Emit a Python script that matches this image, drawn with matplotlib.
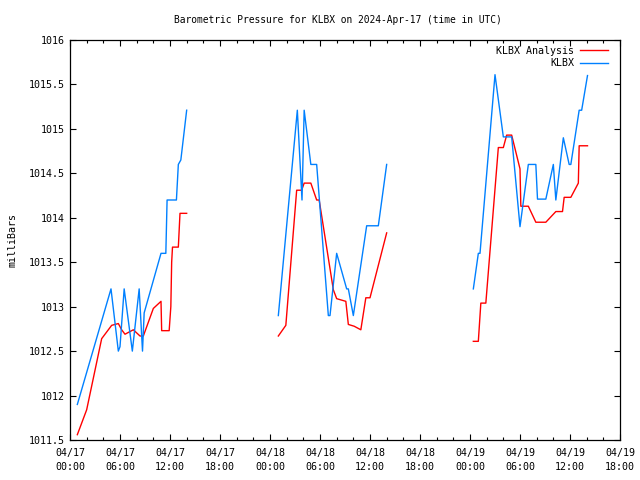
import numpy as np
import matplotlib
matplotlib.use("Agg")
import matplotlib.pyplot as plt
from matplotlib.ticker import MultipleLocator

# hours since 2024-04-17 00:00 UTC
obs_hours = [0.88, 4.92, 5.8, 6.0, 6.5, 7.48, 8.3, 8.7, 8.9, 10.92, 11.5, 11.65, 12.77, 13.0, 13.3, 14.0, np.nan,
             25.0, 27.28, 27.84, 28.1, 28.9, 29.6, 31.0, 31.2, 32.0, 33.2, 33.4, 34.0, 35.6, 37.0, 38.0, np.nan,
             48.4, 49.0, 49.2, 51.0, 52.0, 53.0, 54.0, 55.0, 55.9, 56.1, 57.1, 58.0, 58.3, 59.2, 59.9, 60.1, 61.1, 61.4, 62.1]
obs_mb = [1011.90, 1013.20, 1012.50, 1012.55, 1013.20, 1012.50, 1013.20, 1012.50, 1012.93, 1013.60, 1013.60, 1014.20, 1014.20, 1014.60, 1014.65, 1015.21, np.nan,
          1012.90, 1015.21, 1014.20, 1015.21, 1014.60, 1014.60, 1012.90, 1012.90, 1013.60, 1013.20, 1013.20, 1012.90, 1013.91, 1013.91, 1014.60, np.nan,
          1013.20, 1013.60, 1013.60, 1015.61, 1014.91, 1014.91, 1013.90, 1014.60, 1014.60, 1014.21, 1014.21, 1014.60, 1014.20, 1014.90, 1014.60, 1014.60, 1015.21, 1015.21, 1015.60]

ana_hours = [0.88, 2.0, 3.8, 5.0, 5.8, 6.2, 6.6, 7.6, 8.4, 8.8, 10.0, 10.92, 11.0, 11.9, 12.1, 12.2, 12.3, 13.0, 13.2, 14.0, np.nan,
             25.0, 25.9, 27.2, 27.8, 28.1, 28.9, 29.6, 29.9, 31.6, 32.0, 33.1, 33.4, 34.1, 34.9, 35.5, 36.0, 38.0, np.nan,
             48.4, 49.0, 49.3, 49.9, 51.4, 52.0, 52.4, 53.0, 54.0, 54.1, 55.0, 55.9, 57.1, 58.3, 59.1, 59.3, 60.1, 61.0, 61.1, 62.1]
ana_mb = [1011.56, 1011.84, 1012.64, 1012.79, 1012.81, 1012.74, 1012.69, 1012.74, 1012.67, 1012.67, 1012.98, 1013.06, 1012.73, 1012.73, 1013.0, 1013.5, 1013.67, 1013.67, 1014.05, 1014.05, np.nan,
          1012.67, 1012.79, 1014.31, 1014.31, 1014.39, 1014.39, 1014.20, 1014.20, 1013.19, 1013.09, 1013.06, 1012.80, 1012.78, 1012.74, 1013.10, 1013.10, 1013.83, np.nan,
          1012.61, 1012.61, 1013.04, 1013.04, 1014.79, 1014.79, 1014.93, 1014.93, 1014.55, 1014.13, 1014.13, 1013.95, 1013.95, 1014.07, 1014.07, 1014.23, 1014.23, 1014.39, 1014.81, 1014.81]

xtick_hours = [0, 6, 12, 18, 24, 30, 36, 42, 48, 54, 60, 66]
xtick_labels = ["04/17\n00:00", "04/17\n06:00", "04/17\n12:00", "04/17\n18:00",
                "04/18\n00:00", "04/18\n06:00", "04/18\n12:00", "04/18\n18:00",
                "04/19\n00:00", "04/19\n06:00", "04/19\n12:00", "04/19\n18:00"]
ytick_vals = [1011.5, 1012, 1012.5, 1013, 1013.5, 1014, 1014.5, 1015, 1015.5, 1016]
ytick_labels = ["1011.5", "1012", "1012.5", "1013", "1013.5", "1014", "1014.5", "1015", "1015.5", "1016"]

plt.rcParams['font.family'] = ['DejaVu Sans Mono']
FS = 7.2

fig = plt.figure(figsize=(6.4, 4.8), dpi=100)
ax = fig.add_axes([70/640, 40/480, 550/640, 400/480])

ax.plot(ana_hours, ana_mb, color="#ff0000", lw=1.0, label="KLBX Analysis")
ax.plot(obs_hours, obs_mb, color="#0080ff", lw=1.0, label="KLBX")

ax.set_xlim(0, 66)
ax.set_ylim(1011.5, 1016)
ax.set_xticks(xtick_hours)
ax.set_xticklabels(xtick_labels, fontsize=FS, linespacing=1.45)
ax.set_yticks(ytick_vals)
ax.set_yticklabels(ytick_labels, fontsize=FS)
ax.xaxis.set_minor_locator(MultipleLocator(2))
ax.tick_params(which='both', direction='in', top=True, right=True, width=0.8, color='black')
ax.tick_params(which='major', length=4)
ax.tick_params(axis='x', which='major', pad=6)
ax.tick_params(axis='y', which='major', pad=4)
ax.tick_params(which='minor', length=2.5)
for s in ax.spines.values():
    s.set_linewidth(0.9)

ax.set_title("Barometric Pressure for KLBX on 2024-Apr-17 (time in UTC)", fontsize=6.9, pad=12, x=0.487)
ax.set_ylabel("milliBars", fontsize=FS, labelpad=8)

leg = ax.legend(loc="upper right", bbox_to_anchor=(0.989, 1.0), frameon=False, fontsize=FS,
                markerfirst=False, handlelength=2.8, handletextpad=0.6, labelspacing=0.25,
                borderaxespad=0.2)

fig.savefig("out.png", dpi=100)
